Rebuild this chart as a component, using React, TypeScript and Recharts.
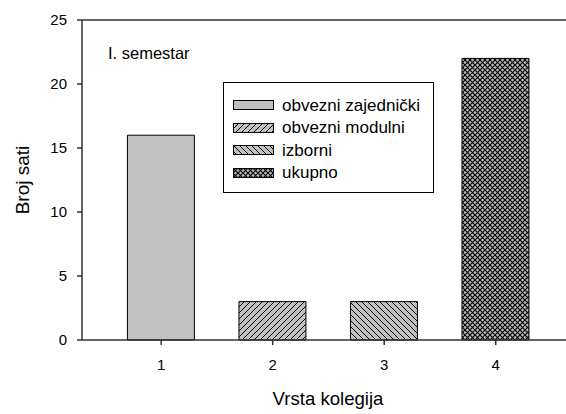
import React from 'react';
import {
  BarChart,
  Bar,
  XAxis,
  YAxis,
  Cell,
  Legend,
  ReferenceLine,
} from 'recharts';

const categories = [1, 2, 3, 4];
const hours = [16, 3, 3, 22];
const seriesNames = ['obvezni zajednički', 'obvezni modulni', 'izborni', 'ukupno'];
const yTicks = [0, 5, 10, 15, 20, 25];

const FILLS = ['#c0c0c0', 'url(#hatchFwd)', 'url(#hatchBack)', 'url(#hatchCross)'];
const FONT = '"Liberation Sans", Arial, sans-serif';
const AXIS = '#333';

const data = categories.map((c, i) => ({ x: c, sati: hours[i] }));

const PatternDefs = () => (
  <defs>
    <pattern id="hatchFwd" width="6" height="6" patternUnits="userSpaceOnUse">
      <rect width="6" height="6" fill="#c0c0c0" />
      <path d="M-1,1 l2,-2 M0,6 l6,-6 M5,7 l2,-2" stroke="#000" strokeWidth="1" />
    </pattern>
    <pattern id="hatchBack" width="6" height="6" patternUnits="userSpaceOnUse">
      <rect width="6" height="6" fill="#c0c0c0" />
      <path d="M-1,5 l2,2 M0,0 l6,6 M5,-1 l2,2" stroke="#000" strokeWidth="1" />
    </pattern>
    <pattern id="hatchCross" width="5" height="5" patternUnits="userSpaceOnUse">
      <rect width="5" height="5" fill="#b8b8b8" />
      <path d="M0,0 l5,5 M5,0 l-5,5" stroke="#000" strokeWidth="1.1" />
    </pattern>
  </defs>
);

const LegendBox = () => (
  <div
    style={{
      border: '1px solid #000',
      background: '#fff',
      width: 211,
      height: 111,
      boxSizing: 'border-box',
      padding: '11px 0 0 9px',
      fontFamily: FONT,
      fontSize: 17,
      color: '#000',
      lineHeight: 1,
    }}
  >
    {seriesNames.map((name, i) => (
      <div key={name} style={{ display: 'flex', alignItems: 'center', height: 22.5 }}>
        <svg width={41} height={10} style={{ marginRight: 8 }}>
          <rect x={0.5} y={0.5} width={40} height={9} fill={FILLS[i]} stroke="#000" strokeWidth={1} />
        </svg>
        <span>{name}</span>
      </div>
    ))}
  </div>
);

export default function App() {
  return (
    <div style={{ position: 'absolute', left: 0, top: 0, background: '#fff' }}>
      <BarChart
        width={566}
        height={414}
        data={data}
        margin={{ top: 20, right: 0, left: 20, bottom: 4 }}
      >
        <PatternDefs />
        <XAxis
          dataKey="x"
          type="number"
          domain={[0.29, 4.63]}
          ticks={categories}
          allowDataOverflow
          height={70}
          tickSize={5}
          tickMargin={14}
          stroke={AXIS}
          strokeWidth={1.5}
          tick={{ fontSize: 15, fill: '#000', fontFamily: FONT }}
          label={{
            value: 'Vrsta kolegija',
            position: 'insideBottom',
            offset: 5,
            dx: 4,
            style: { fontSize: 18.6, fill: '#000', fontFamily: FONT },
          }}
        />
        <YAxis
          domain={[0, 25]}
          ticks={yTicks}
          width={62}
          tickSize={5}
          tickMargin={10}
          stroke={AXIS}
          strokeWidth={1.5}
          tick={{ fontSize: 15, fill: '#000', fontFamily: FONT }}
          label={{
            value: 'Broj sati',
            angle: -90,
            position: 'insideLeft',
            offset: 2,
            style: { fontSize: 19, fill: '#000', fontFamily: FONT, textAnchor: 'middle' },
          }}
        />
        <ReferenceLine
          y={25}
          stroke={AXIS}
          strokeWidth={1.5}
          label={{
            value: 'I. semestar',
            position: 'insideTopLeft',
            dx: 21,
            dy: 22,
            style: { fontSize: 16.5, fill: '#000', fontFamily: FONT },
          }}
        />
        <Legend
          content={<LegendBox />}
          layout="horizontal"
          verticalAlign="middle"
          align="center"
          wrapperStyle={{ left: 223, top: 82, width: 'auto', height: 'auto' }}
        />
        <Bar dataKey="sati" barSize={67} stroke="#000" strokeWidth={1} isAnimationActive={false}>
          {data.map((_, i) => (
            <Cell key={`cell-${i}`} fill={FILLS[i]} />
          ))}
        </Bar>
      </BarChart>
    </div>
  );
}
